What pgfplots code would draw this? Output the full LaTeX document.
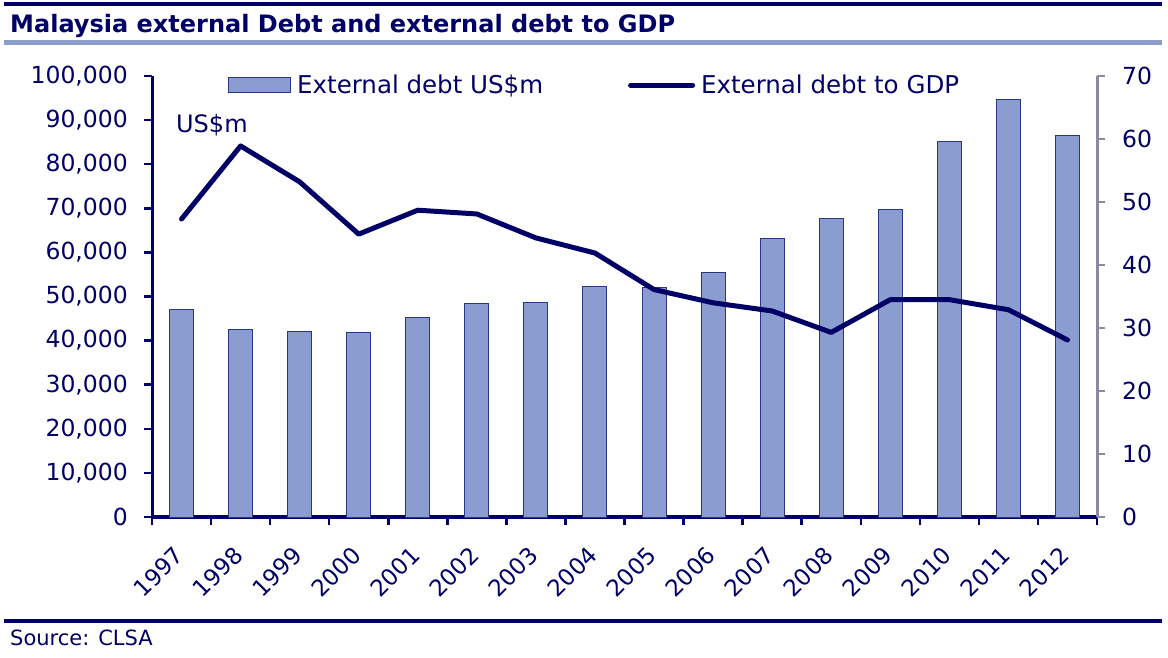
\documentclass[border=0pt]{standalone}
\usepackage{fontspec}
\setmainfont{DejaVu Sans}
\usepackage{pgfplots}
\usepackage{pgfplotstable}
\pgfplotsset{compat=1.18}

\definecolor{navy}{HTML}{000066}
\definecolor{barfill}{HTML}{8B9DD0}
\definecolor{baredge}{HTML}{2B3585}
\definecolor{greyax}{HTML}{8A8AA0}
\definecolor{paleline}{HTML}{8B9DCC}

% external debt (US$m) and external debt to GDP (%)
\pgfplotstableread{
x year debt ratio
0 1997 47100 47.3
1 1998 42500 58.9
2 1999 42000 53.2
3 2000 41900 44.9
4 2001 45200 48.7
5 2002 48450 48.1
6 2003 48700 44.3
7 2004 52300 41.9
8 2005 52000 36.1
9 2006 55500 34.0
10 2007 63200 32.7
11 2008 67800 29.3
12 2009 69800 34.5
13 2010 85200 34.5
14 2011 94600 32.9
15 2012 86600 28.1
}\datatable

\begin{document}
\begin{tikzpicture}
\useasboundingbox (0pt,0pt) rectangle (1168pt,657pt);

% header and footer
\fill[navy] (4pt,651pt) rectangle (1162pt,655pt);
\node[anchor=base west, inner sep=0pt, font=\fontsize{24}{28}\selectfont\bfseries, text=navy]
  at (10pt,624pt) {Malaysia external Debt and external debt to GDP};
\fill[paleline] (4pt,612pt) rectangle (1162pt,617pt);
\fill[navy] (4pt,34pt) rectangle (1162pt,38pt);
\node[anchor=base west, inner sep=0pt, font=\fontsize{21}{25}\selectfont, text=navy]
  at (10pt,12pt) {Source: CLSA};

% bars, left axis
\begin{axis}[
    at={(152pt,140pt)}, anchor=south west,
    scale only axis, width=945pt, height=441pt,
    xmin=-0.5, xmax=15.5, ymin=0, ymax=100000,
    axis x line*=bottom, axis y line*=left,
    axis line style={-},
    x axis line style={navy, line width=4.5pt},
    y axis line style={navy, line width=3pt},
    tick align=outside,
    major tick length=8pt, minor tick length=8pt,
    xtick={0,...,15},
    xticklabels={1997,1998,1999,2000,2001,2002,2003,2004,2005,2006,2007,2008,2009,2010,2011,2012},
    major x tick style={draw=none},
    minor xtick={-0.5,0.5,...,15.5},
    minor x tick style={navy, line width=2.5pt},
    xticklabel style={yshift=-26pt, xshift=-2pt, rotate=45, anchor=east, inner sep=0pt,
      font=\fontsize{23}{27}\selectfont, text=navy},
    ytick={0,10000,...,100000},
    y tick style={navy, line width=2.5pt},
    scaled y ticks=false,
    yticklabel style={font=\fontsize{23.5}{27}\selectfont, text=navy, inner sep=0pt, xshift=-16pt,
      /pgf/number format/.cd, fixed, 1000 sep={,}, assume math mode=true},
    clip=false,
  ]
  \addplot[ybar, bar width=24pt, fill=barfill, draw=baredge, line width=1pt]
    table[x=x, y=debt] {\datatable};
  \node[anchor=base west, inner sep=0pt, font=\fontsize{24}{28}\selectfont, text=navy]
    at (axis cs:-0.094,87075) {US\$m};
\end{axis}

% ratio line, right axis
\begin{axis}[
    at={(152pt,140pt)}, anchor=south west,
    scale only axis, width=945pt, height=441pt,
    xmin=-0.5, xmax=15.5, ymin=0, ymax=70,
    axis x line=none, axis y line*=right,
    axis line style={-},
    y axis line style={greyax, line width=3pt},
    y tick style={greyax, line width=2.5pt},
    tick align=outside, major tick length=8pt,
    ytick={0,10,...,70},
    yticklabel style={font=\fontsize{23.5}{27}\selectfont, text=navy, inner sep=0pt, xshift=17pt,
      /pgf/number format/assume math mode=true},
    legend columns=2,
    legend style={draw=none, fill=none, inner sep=0pt, text=navy,
      font=\fontsize{24.5}{28}\selectfont,
      at={(0.0804,0.9796)}, anchor=west,
      /tikz/every odd column/.append style={column sep=4pt},
      /tikz/every even column/.append style={column sep=83pt}},
    legend cell align=left,
    clip=false,
  ]
  \addlegendimage{legend image code/.code={
      \draw[fill=barfill, draw=baredge, line width=1pt] (0pt,-7.5pt) rectangle (62pt,7.5pt);}}
  \addlegendentry{External debt US\$m}
  \addplot[navy, line width=5pt, line join=round, line cap=round, mark=none,
      legend image code/.code={\draw[navy, line width=5pt, line cap=round] (0pt,0pt) -- (62pt,0pt);}]
    table[x=x, y=ratio] {\datatable};
  \addlegendentry{External debt to GDP}
\end{axis}
\end{tikzpicture}
\end{document}
